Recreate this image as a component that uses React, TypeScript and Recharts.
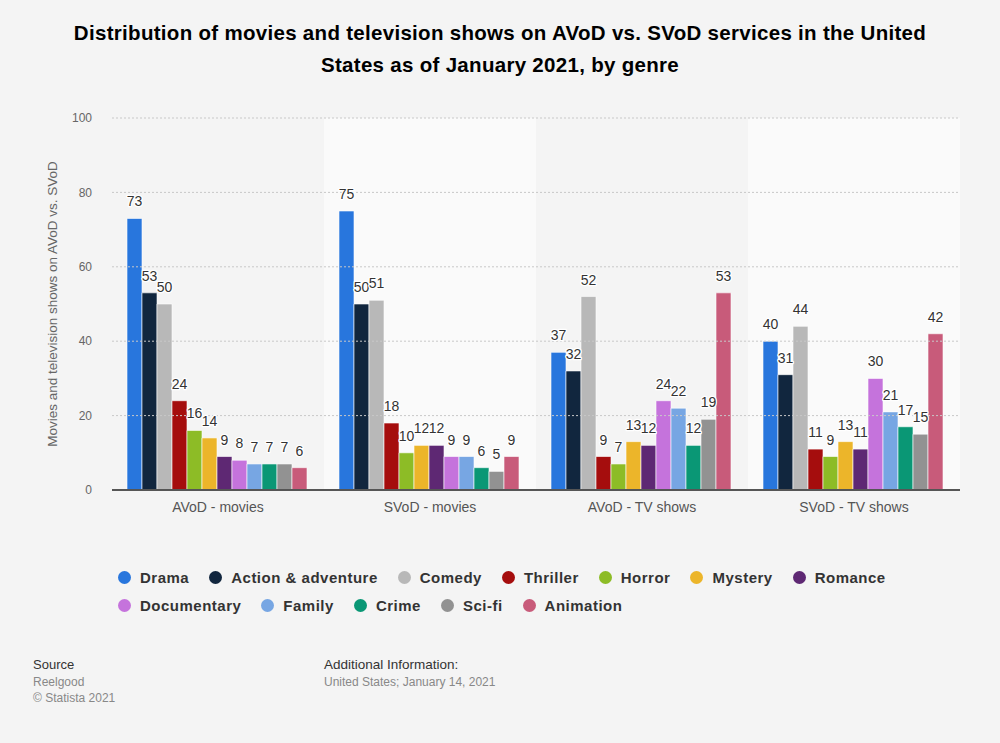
import React from "react";
import {
  BarChart,
  Bar,
  XAxis,
  YAxis,
  LabelList,
  Label,
  ReferenceArea,
  ReferenceLine,
} from "recharts";

const categories = ["AVoD - movies", "SVoD - movies", "AVoD - TV shows", "SVoD - TV shows"];
const genres = [
  "Drama",
  "Action & adventure",
  "Comedy",
  "Thriller",
  "Horror",
  "Mystery",
  "Romance",
  "Documentary",
  "Family",
  "Crime",
  "Sci-fi",
  "Animation",
];
const genreColors = [
  "#2876dd",
  "#11263e",
  "#b8b8b8",
  "#a50d0d",
  "#8dbc26",
  "#ecb52a",
  "#5e2873",
  "#c573dc",
  "#77a6e3",
  "#0a9775",
  "#929292",
  "#c85b7a",
];
const drama = [73, 75, 37, 40];
const actionAdventure = [53, 50, 32, 31];
const comedy = [50, 51, 52, 44];
const thriller = [24, 18, 9, 11];
const horror = [16, 10, 7, 9];
const mystery = [14, 12, 13, 13];
const romance = [9, 12, 12, 11];
const documentary = [8, 9, 24, 30];
const family = [7, 9, 22, 21];
const crime = [7, 6, 12, 17];
const sciFi = [7, 5, 19, 15];
const animation = [6, 9, 53, 42];
const yTicks = [0, 20, 40, 60, 80, 100];

const seriesValues = [
  drama,
  actionAdventure,
  comedy,
  thriller,
  horror,
  mystery,
  romance,
  documentary,
  family,
  crime,
  sciFi,
  animation,
];

const data = categories.map((c, i) => {
  const row: Record<string, string | number> = { name: c };
  genres.forEach((g, gi) => {
    row["g" + gi] = seriesValues[gi][i];
  });
  return row;
});

const FONT = "'Liberation Sans', Arial, Helvetica, sans-serif";

const renderLabel = (props: any) => {
  const { x, y, width, value } = props;
  return (
    <text
      x={Number(x) + Number(width) / 2}
      y={Number(y) - 12}
      textAnchor="middle"
      fontSize={14}
      fill="#333333"
      stroke="#ffffff"
      strokeWidth={2.5}
      strokeLinejoin="round"
      style={{ paintOrder: "stroke" }}
    >
      {value}
    </text>
  );
};

const legendRows = [genres.slice(0, 7).map((g, i) => i), genres.slice(7).map((g, i) => i + 7)];

export default function App() {
  return (
    <div
      style={{
        position: "absolute",
        left: 0,
        top: 0,
        width: 1000,
        height: 743,
        background: "#f4f4f4",
        fontFamily: FONT,
        overflow: "hidden",
      }}
    >
      <div
        style={{
          position: "absolute",
          left: 0,
          top: 17,
          width: 1000,
          textAlign: "center",
          fontWeight: "bold",
          fontSize: 20.5,
          letterSpacing: 0.3,
          lineHeight: "32px",
          color: "#000",
        }}
      >
        Distribution of movies and television shows on AVoD vs. SVoD services in the United
        <br />
        States as of January 2021, by genre
      </div>
      <div style={{ position: "absolute", left: 0, top: 0 }}>
        <BarChart
          width={1000}
          height={743}
          data={data}
          margin={{ top: 118, right: 40, bottom: 223, left: 52 }}
          barCategoryGap={15}
          barGap={0}
        >
          {categories.map((c, i) => (
            <ReferenceArea
              key={c}
              x1={c}
              x2={c}
              fill={i % 2 === 1 ? "#fafafa" : "#f4f4f4"}
              fillOpacity={1}
              stroke="none"
            />
          ))}
          {yTicks.map((t) => (
            <ReferenceLine key={t} y={t} stroke="#c8c8c8" strokeDasharray="2 2" strokeWidth={1} />
          ))}
          <XAxis
            dataKey="name"
            height={30}
            tickLine={false}
            axisLine={{ stroke: "#555555", strokeWidth: 2 }}
            tick={{ fill: "#555555", fontSize: 14 }}
            tickMargin={6}
          />
          <YAxis
            width={60}
            domain={[0, 100]}
            ticks={yTicks}
            axisLine={false}
            tickLine={false}
            tickMargin={14}
            tick={{ fill: "#666666", fontSize: 12 }}
          >
            <Label
              value="Movies and television shows on AVoD vs. SVoD"
              angle={-90}
              position="center"
              dx={-30}
              style={{ fill: "#666666", fontSize: 13.5, textAnchor: "middle" }}
            />
          </YAxis>
          {genres.map((g, gi) => (
            <Bar
              key={g}
              dataKey={"g" + gi}
              name={g}
              fill={genreColors[gi]}
              stroke="#ffffff"
              strokeOpacity={0.6}
              strokeWidth={1}
              isAnimationActive={false}
            >
              <LabelList dataKey={"g" + gi} content={renderLabel} />
            </Bar>
          ))}
        </BarChart>
      </div>
      <div style={{ position: "absolute", left: 118, top: 563 }}>
        {legendRows.map((row, ri) => (
          <div key={ri} style={{ display: "flex", alignItems: "center", height: 28 }}>
            {row.map((gi) => (
              <div key={gi} style={{ display: "flex", alignItems: "center", marginRight: 20 }}>
                <span
                  style={{
                    display: "inline-block",
                    width: 13,
                    height: 13,
                    borderRadius: "50%",
                    background: genreColors[gi],
                    marginRight: 9,
                  }}
                />
                <span
                  style={{
                    fontWeight: "bold",
                    fontSize: 15,
                    letterSpacing: 0.5,
                    color: "#333333",
                    whiteSpace: "nowrap",
                  }}
                >
                  {genres[gi]}
                </span>
              </div>
            ))}
          </div>
        ))}
      </div>
      <div style={{ position: "absolute", left: 33, top: 657, lineHeight: "16.5px" }}>
        <div style={{ color: "#333333", fontSize: 13 }}>Source</div>
        <div style={{ color: "#888888", fontSize: 12 }}>Reelgood</div>
        <div style={{ color: "#888888", fontSize: 12 }}>© Statista 2021</div>
      </div>
      <div style={{ position: "absolute", left: 324, top: 657, lineHeight: "16.5px" }}>
        <div style={{ color: "#333333", fontSize: 13.5 }}>Additional Information:</div>
        <div style={{ color: "#888888", fontSize: 12 }}>United States; January 14, 2021</div>
      </div>
    </div>
  );
}
